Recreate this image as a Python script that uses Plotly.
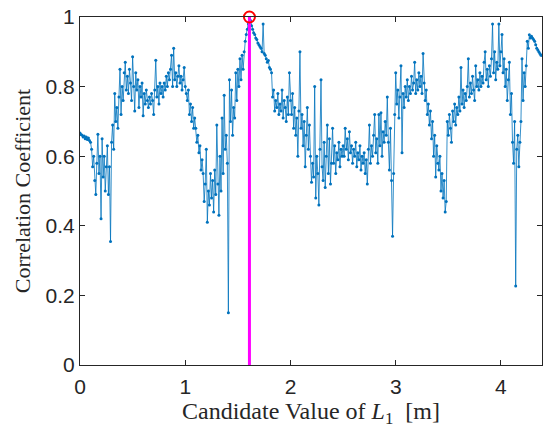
import plotly.graph_objects as go

# Candidate L1 values: 0.00 .. 4.39 m in 0.01 m steps
x_step = 0.01

# Correlation coefficient per candidate (rows of 10)
corr = [
    0.667, 0.662, 0.660, 0.655, 0.658, 0.650, 0.655, 0.648, 0.652, 0.645,  # 0.0
    0.64, 0.62, 0.57, 0.60, 0.53, 0.49, 0.58, 0.663, 0.55, 0.60,          # 0.1
    0.42, 0.65, 0.54, 0.60, 0.50, 0.57, 0.63, 0.49, 0.57, 0.355,          # 0.2
    0.64, 0.69, 0.62, 0.78, 0.70, 0.74, 0.68, 0.77, 0.85, 0.72,           # 0.3
    0.80, 0.76, 0.84, 0.87, 0.79, 0.83, 0.78, 0.85, 0.81, 0.76,           # 0.4
    0.886, 0.80, 0.73, 0.84, 0.79, 0.82, 0.74, 0.80, 0.77, 0.81,          # 0.5
    0.716, 0.78, 0.75, 0.79, 0.76, 0.74, 0.77, 0.75, 0.78, 0.76,          # 0.6
    0.72, 0.79, 0.876, 0.77, 0.80, 0.75, 0.81, 0.78, 0.80, 0.77,          # 0.7
    0.81, 0.79, 0.83, 0.80, 0.84, 0.82, 0.85, 0.89, 0.80, 0.91,           # 0.8
    0.82, 0.84, 0.80, 0.83, 0.86, 0.81, 0.83, 0.79, 0.82, 0.855,          # 0.9
    0.80, 0.78, 0.76, 0.79, 0.72, 0.75, 0.70, 0.74, 0.68, 0.71,           # 1.0
    0.68, 0.64, 0.66, 0.61, 0.63, 0.56, 0.59, 0.55, 0.47, 0.52,           # 1.1
    0.62, 0.41, 0.50, 0.46, 0.55, 0.48, 0.53, 0.44, 0.56, 0.49,           # 1.2
    0.69, 0.52, 0.43, 0.60, 0.50, 0.71, 0.55, 0.775, 0.62, 0.66,          # 1.3
    0.58, 0.15, 0.82, 0.70, 0.79, 0.66, 0.74, 0.71, 0.84, 0.76,           # 1.4
    0.85, 0.80, 0.88, 0.82, 0.89, 0.85, 0.90, 0.93, 0.95, 0.965,          # 1.5
    0.98, 1.00, 0.99, 0.975, 0.965, 0.955, 0.95, 0.94, 0.935, 0.925,      # 1.6
    0.92, 0.915, 0.91, 0.90, 0.98, 0.895, 0.89, 0.88, 0.87, 0.875,        # 1.7
    0.855, 0.85, 0.84, 0.77, 0.79, 0.73, 0.76, 0.74, 0.78, 0.72,          # 1.8
    0.75, 0.73, 0.79, 0.71, 0.76, 0.74, 0.70, 0.77, 0.72, 0.84,           # 1.9
    0.76, 0.72, 0.78, 0.68, 0.74, 0.66, 0.71, 0.60, 0.73, 0.90,           # 2.0
    0.68, 0.72, 0.63, 0.70, 0.57, 0.66, 0.74, 0.62, 0.69, 0.60,           # 2.1
    0.525, 0.58, 0.54, 0.80, 0.48, 0.60, 0.55, 0.46, 0.62, 0.82,          # 2.2
    0.57, 0.53, 0.64, 0.51, 0.60, 0.69, 0.55, 0.65, 0.52, 0.58,           # 2.3
    0.68, 0.58, 0.63, 0.55, 0.61, 0.59, 0.64, 0.57, 0.62, 0.60,           # 2.4
    0.63, 0.60, 0.68, 0.62, 0.65, 0.59, 0.67, 0.61, 0.63, 0.58,           # 2.5
    0.62, 0.60, 0.64, 0.57, 0.61, 0.59, 0.63, 0.56, 0.60, 0.58,           # 2.6
    0.61, 0.55, 0.59, 0.52, 0.62, 0.69, 0.58, 0.63, 0.60, 0.66,           # 2.7
    0.72, 0.61, 0.65, 0.58, 0.72, 0.63, 0.725, 0.60, 0.67, 0.64,          # 2.8
    0.70, 0.66, 0.77, 0.64, 0.56, 0.68, 0.53, 0.37, 0.55, 0.72,           # 2.9
    0.84, 0.75, 0.79, 0.71, 0.77, 0.86, 0.61, 0.78, 0.74, 0.80,           # 3.0
    0.77, 0.82, 0.76, 0.80, 0.78, 0.83, 0.79, 0.81, 0.87, 0.78,           # 3.1
    0.82, 0.79, 0.84, 0.80, 0.83, 0.78, 0.895, 0.81, 0.76, 0.79,          # 3.2
    0.72, 0.75, 0.69, 0.73, 0.65, 0.70, 0.60, 0.66, 0.54, 0.63,           # 3.3
    0.58, 0.56, 0.60, 0.50, 0.55, 0.48, 0.53, 0.44, 0.47, 0.70,           # 3.4
    0.66, 0.72, 0.68, 0.64, 0.73, 0.70, 0.75, 0.69, 0.74, 0.72,           # 3.5
    0.77, 0.73, 0.855, 0.75, 0.79, 0.74, 0.78, 0.76, 0.80, 0.88,          # 3.6
    0.77, 0.81, 0.78, 0.83, 0.79, 0.76, 0.86, 0.80, 0.82, 0.79,           # 3.7
    0.84, 0.80, 0.83, 0.81, 0.87, 0.90, 0.82, 0.85, 0.80, 0.86,           # 3.8
    0.83, 0.88, 0.98, 0.84, 0.90, 0.82, 0.87, 0.85, 0.98, 0.86,           # 3.9
    0.90, 0.95, 0.84, 0.88, 0.80, 0.85, 0.76, 0.82, 0.87, 0.72,           # 4.0
    0.78, 0.64, 0.58, 0.70, 0.227, 0.62, 0.66, 0.57, 0.64, 0.70,          # 4.1
    0.88, 0.76, 0.84, 0.80, 0.86, 0.93, 0.91, 0.949, 0.94, 0.945,         # 4.2
    0.94, 0.935, 0.93, 0.92, 0.91, 0.905, 0.90, 0.895, 0.89, 0.89,        # 4.3
]
candidates = [round(i * x_step, 2) for i in range(len(corr))]

# Selected (maximum) candidate
peak_x = [1.61]
peak_y = [1.00]

x_ticks = [0, 1, 2, 3, 4]
y_ticks = [0, 0.2, 0.4, 0.6, 0.8, 1]
y_ticklabels = ["0", "0.2", "0.4", "0.6", "0.8", "1"]

blue = "#0072BD"
axis_col = "#262626"

fig = go.Figure()
fig.add_trace(go.Scatter(
    x=candidates, y=corr, mode="lines+markers",
    line=dict(color=blue, width=0.8),
    marker=dict(color=blue, size=3),
    showlegend=False, hoverinfo="skip",
))
fig.add_trace(go.Scatter(
    x=[peak_x[0], peak_x[0]], y=[0, peak_y[0]], mode="lines",
    line=dict(color="#FF00FF", width=3),
    showlegend=False, hoverinfo="skip", cliponaxis=False,
))
fig.add_trace(go.Scatter(
    x=peak_x, y=peak_y, mode="markers",
    marker=dict(symbol="circle-open", size=11, color="#FF0000",
                line=dict(width=2, color="#FF0000")),
    showlegend=False, cliponaxis=False,
))

tickfont = dict(family="Liberation Sans, Arial, sans-serif", size=21, color=axis_col)
xtitlefont = dict(family="Liberation Serif, Times New Roman, serif", size=24, color=axis_col)
ytitlefont = dict(family="Liberation Serif, Times New Roman, serif", size=22, color=axis_col)

fig.update_layout(
    width=548, height=428,
    margin=dict(l=80, r=5, t=13, b=63),
    paper_bgcolor="white", plot_bgcolor="white",
    xaxis=dict(
        range=[0, 4.39], tickvals=x_ticks, ticks="inside", ticklen=5,
        tickcolor=axis_col, showline=True, mirror="ticks", linecolor=axis_col,
        linewidth=1, showgrid=False, zeroline=False, tickfont=tickfont,
        ticklabelstandoff=3,
        title=dict(text="Candidate Value of <i>L</i><sub>1</sub>&nbsp;&nbsp;[m]",
                   font=xtitlefont, standoff=2),
    ),
    yaxis=dict(
        range=[0, 1], tickvals=y_ticks, ticktext=y_ticklabels, ticks="inside", ticklen=5,
        tickcolor=axis_col, showline=True, mirror="ticks", linecolor=axis_col,
        linewidth=1, showgrid=False, zeroline=False, tickfont=tickfont,
        title=dict(text="Correlation Coefficient", font=ytitlefont, standoff=8),
    ),
)

fig.write_html("out.html")
